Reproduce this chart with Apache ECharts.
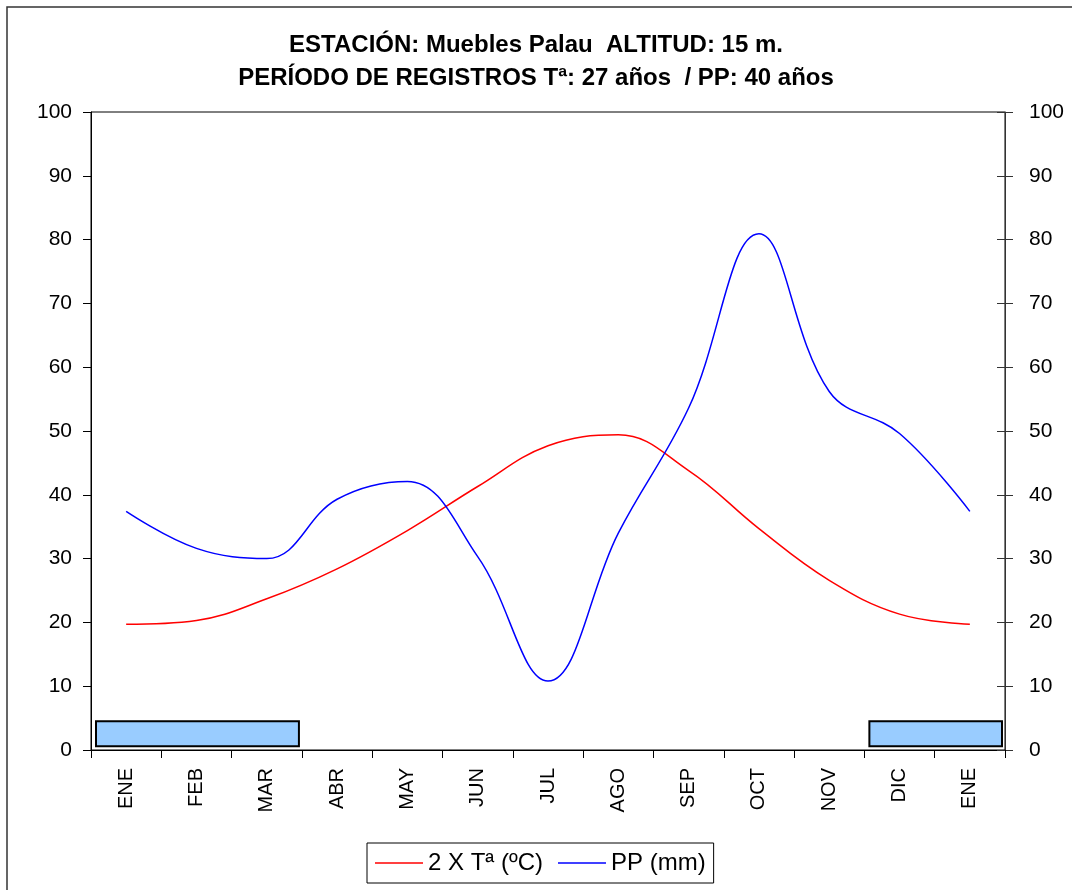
<!DOCTYPE html>
<html>
<head>
<meta charset="utf-8">
<title>Climograma Muebles Palau</title>
<script src="https://cdn.jsdelivr.net/npm/echarts@6/dist/echarts.min.js"></script>
<style>
  html, body { margin: 0; padding: 0; background: #fff; }
  #chart { width: 1072px; height: 890px; }
</style>
</head>
<body>
<div id="chart"></div>
<script>
// meses (ENE repetido al final)
const months = ["ENE", "FEB", "MAR", "ABR", "MAY", "JUN", "JUL", "AGO", "SEP", "OCT", "NOV", "DIC", "ENE"];
// 2 x temperatura media (ºC)
const temp2 = [19.7, 20.3, 23.7, 28.4, 34.4, 41.3, 47.7, 49.4, 43.8, 34.7, 26.6, 21.3, 19.7];
// precipitacion (mm)
const pp = [37.4, 31.6, 30.0, 39.3, 42.1, 30.3, 10.8, 34.0, 53.6, 80.9, 56.2, 49.6, 37.4];
// periodo seco: [mes inicio, mes fin, valor inferior, valor superior]
const dryStart = [0, 11];
const dryEnd = [2, 12];
const dryLow = 0.6;
const dryHigh = 4.5;
const yTicks = [0, 10, 20, 30, 40, 50, 60, 70, 80, 90, 100];

const FONT = "'Liberation Sans', Arial, sans-serif";
const chart = echarts.init(document.getElementById("chart"));

let dryData = [];
for (let i = 0; i < dryStart.length; i++) {
  dryData.push([dryStart[i], dryEnd[i], dryLow, dryHigh]);
}

const yBase = {
  type: "value",
  min: yTicks[0],
  max: yTicks[yTicks.length - 1],
  interval: 10,
  splitLine: { show: false }
};

const option = {
  backgroundColor: "#fff",
  animation: false,
  title: {
    text: "ESTACIÓN: Muebles Palau  ALTITUD: 15 m.\nPERÍODO DE REGISTROS Tª: 27 años  / PP: 40 años",
    left: "center",
    top: 29,
    padding: [0, 0, 0, 22],
    textStyle: {
      fontFamily: FONT,
      fontSize: 24,
      fontWeight: "bold",
      color: "#000",
      lineHeight: 33
    }
  },
  graphic: [
    {
      type: "rect",
      shape: { x: 7, y: 7, width: 1100, height: 1000 },
      style: { fill: "none", stroke: "#333", lineWidth: 1.5 },
      silent: true
    }
  ],
  legend: {
    left: 367,
    top: 843,
    data: ["2 X Tª (ºC)", "PP (mm)"],
    icon: "rect",
    itemWidth: 48,
    itemHeight: 1.5,
    itemGap: 15,
    padding: [8, 8, 8, 8],
    borderColor: "#000",
    borderWidth: 1,
    textStyle: { fontFamily: FONT, fontSize: 24, color: "#000", lineHeight: 24 }
  },
  grid: {
    left: 91,
    right: 67,
    top: 112,
    bottom: 140,
    show: true,
    borderColor: "#000",
    borderWidth: 1,
    backgroundColor: "transparent"
  },
  xAxis: {
    type: "category",
    data: months,
    boundaryGap: true,
    axisLine: { lineStyle: { color: "#000", width: 1 } },
    axisTick: { show: true, length: 8, lineStyle: { color: "#000" } },
    axisLabel: {
      rotate: 90,
      interval: 0,
      margin: 18,
      color: "#000",
      fontFamily: FONT,
      fontSize: 20
    }
  },
  yAxis: [
    Object.assign({}, yBase, {
      position: "left",
      axisLine: { show: true, lineStyle: { color: "#000" } },
      axisTick: { show: true, length: 8, lineStyle: { color: "#000" } },
      axisLabel: { margin: 19, color: "#000", fontFamily: FONT, fontSize: 21 }
    }),
    Object.assign({}, yBase, {
      position: "right",
      axisLine: { show: true, lineStyle: { color: "#333" } },
      axisTick: { show: true, length: 8, lineStyle: { color: "#333" } },
      axisLabel: { margin: 24, color: "#000", fontFamily: FONT, fontSize: 21 }
    }),
    Object.assign({}, yBase, {
      position: "right",
      axisLine: { show: false },
      axisTick: { show: true, inside: true, length: 8, lineStyle: { color: "#333" } },
      axisLabel: { show: false }
    })
  ],
  series: [
    {
      name: "2 X Tª (ºC)",
      type: "line",
      data: temp2,
      smooth: 0.4,
      symbol: "none",
      lineStyle: { color: "#ff0000", width: 1.5 },
      itemStyle: { color: "#ff0000" },
      z: 3
    },
    {
      name: "PP (mm)",
      type: "line",
      data: pp,
      smooth: 0.4,
      symbol: "none",
      lineStyle: { color: "#0000ff", width: 1.5 },
      itemStyle: { color: "#0000ff" },
      z: 3
    },
    {
      name: "seco",
      type: "custom",
      data: dryData,
      z: 2,
      renderItem: function (params, api) {
        const bw = api.size([1, 0])[0];
        const p0 = api.coord([api.value(0), api.value(3)]);
        const p1 = api.coord([api.value(1), api.value(2)]);
        const x0 = p0[0] - bw / 2 + 5;
        const x1 = p1[0] + bw / 2 - 3;
        return {
          type: "rect",
          shape: { x: x0, y: p0[1], width: x1 - x0, height: p1[1] - p0[1] },
          style: { fill: "#99ccff", stroke: "#000", lineWidth: 2 }
        };
      }
    }
  ]
};

chart.setOption(option);
</script>
</body>
</html>
